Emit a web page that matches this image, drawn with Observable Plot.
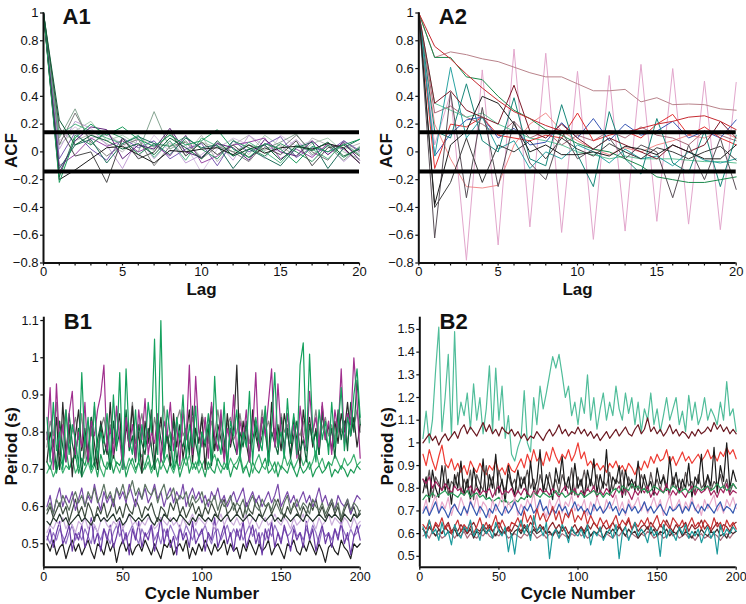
<!DOCTYPE html>
<html><head><meta charset="utf-8">
<script src="https://cdn.jsdelivr.net/npm/d3@7"></script>
<script src="https://cdn.jsdelivr.net/npm/@observablehq/plot@0.6"></script>
<style>
body{margin:0;background:#fff}
#wrap{position:relative;width:746px;height:604px;overflow:hidden;background:#fff}
.panel{position:absolute}
</style></head><body><div id="wrap"></div>
<script>
// ---------- categories / ticks ----------
const lags = [0,1,2,3,4,5,6,7,8,9,10,11,12,13,14,15,16,17,18,19,20];
const cycles = Array.from({length:100},(_,i)=>2*i+2);
const ticksAy = [-0.8,-0.6,-0.4,-0.2,0,0.2,0.4,0.6,0.8,1];
const ticksAx = lags;
const ticksB1y = [0.5,0.6,0.7,0.8,0.9,1,1.1];
const ticksB2y = [0.5,0.6,0.7,0.8,0.9,1,1.1,1.2,1.3,1.4,1.5];
const ticksBx = [0,50,100,150,200];
const confBand = [0.1414,-0.1414];

// ---------- A1 ACF series ----------
const a1s1 = [1,.23,.05,.12,.08,.02,.06,-.02,.10,.03,-.05,.08,-.03,.02,.05,-.06,.04,.01,.07,-.03,.02];
const a1s2 = [1,-.22,.10,.20,.12,.18,.09,.04,.12,.05,.08,.16,.02,-.04,.06,.02,-.08,.04,.00,.05,.09];
const a1s3 = [1,-.18,.12,.05,.15,.10,-.02,.06,.04,.11,.02,-.05,.08,.03,-.03,.06,.00,-.07,.05,-.04,.03];
const a1s4 = [1,.12,.20,.15,.10,.06,.12,-.04,.08,-.06,.10,.04,-.03,.07,.00,-.08,.05,.02,-.05,.06,-.02];
const a1s5 = [1,.10,.31,.05,.14,.03,.00,.29,.02,.08,-.04,.06,.00,.05,.02,.07,.13,-.02,.04,-.06,.04];
const a1s6 = [1,.05,.15,.22,.08,.12,.05,.01,.13,.00,.07,.03,.09,-.02,.12,.04,-.03,.06,.10,.00,-.05];
const a1s7 = [1,-.15,.08,.18,.16,-.05,.05,.02,.17,.00,-.04,.06,.03,-.06,.09,.00,-.03,.08,-.02,.07,-.06];
const a1s8 = [1,-.10,-.02,.10,.04,.08,.00,.05,-.03,.12,-.08,-.03,.05,.07,.10,-.05,.02,-.04,.06,.02,-.08];
const a1s9 = [1,-.05,.14,.02,-.06,.10,.03,.08,-.05,.02,.06,-.10,.08,.00,.05,.11,-.04,.03,.00,.08,.01];
const a1s10 = [1,.02,.22,.17,.05,-.12,.10,-.05,.08,-.08,-.02,.07,-.06,.12,.04,.00,.09,-.03,.05,-.07,.03];
const a1s11 = [1,.08,.18,.10,.12,.06,-.04,.12,.00,.05,-.15,.02,.10,.05,-.05,.12,.04,.08,-.02,.06,-.01];
const a1s12 = [1,-.20,-.13,-.05,.03,.04,-.02,-.08,.01,.00,.02,.03,-.02,.05,-.01,.03,.04,.02,.06,.03,-.08];
const a1s13 = [1,.18,-.03,.00,-.22,.10,-.05,.00,.15,-.03,.07,-.02,.05,-.04,.03,-.02,.08,-.10,.03,.05,-.03];
const a1s14 = [1,.05,.28,.07,-.03,.05,.09,-.10,.04,.07,-.05,.04,.00,-.07,.06,.02,.12,.00,-.06,.08,.00];
const a1s15 = [1,.15,.08,.13,.06,.00,.11,.03,.06,-.02,.12,-.07,.05,.12,.01,.05,-.04,.10,.05,.02,.06];
const a1s16 = [1,-.12,.05,.09,-.08,.06,.11,.06,-.02,.10,.03,.05,-.12,.02,-.04,-.10,.03,.07,-.12,.03,.09];

// ---------- A2 ACF series ----------
const a2Pink = [1,.05,.42,-.78,.59,-.67,.74,-.54,.71,-.58,.58,-.63,.55,-.57,.63,-.50,.60,-.52,.51,-.56,.50];
const a2Rosy = [1,.68,.72,.70,.67,.65,.61,.57,.54,.54,.49,.44,.44,.45,.36,.39,.34,.345,.34,.31,.30];
const a2Red1 = [1,.76,.67,.56,.46,.37,.29,.24,.19,.15,.13,.14,.15,.14,.17,.20,.22,.25,.26,.22,.16];
const a2Green = [1,.68,.68,.54,.52,.40,.30,.24,.16,.12,.06,.02,.00,-.05,-.10,-.18,-.20,-.22,-.22,-.20,-.18];
const a2Teal3 = [1,.15,.10,.49,.08,.00,.39,-.05,-.10,.34,-.02,-.25,.29,-.05,-.16,.24,-.08,-.15,.15,-.25,.12];
const a2Teal2 = [1,-.03,.61,.10,.25,.02,.08,-.12,.00,-.05,.05,.00,-.08,.02,-.05,-.03,-.10,.00,-.06,-.08,-.05];
const a2Blue = [1,-.03,.13,.23,.25,.10,.17,.05,.07,.21,.10,.24,.08,.20,.12,.15,.22,.10,.15,.10,.23];
const a2Black = [1,-.38,.05,.15,.40,.35,.20,.00,.05,-.02,-.02,.00,-.03,.04,.02,-.02,.05,.00,-.05,-.05,.05];
const a2DGrey = [1,-.62,.43,-.33,.32,-.25,.22,-.08,-.20,.15,-.05,.02,.10,-.05,.05,.00,-.33,.05,-.20,.10,-.27];
const a2DGrey2 = [1,-.40,-.22,.10,-.22,.05,.00,.08,-.05,.10,.02,-.03,.06,.00,-.05,.03,.00,-.05,.00,.04,-.06];
const a2Salmon = [1,.20,-.05,-.25,-.26,-.24,.05,.20,.28,.15,.08,.02,-.02,.03,.00,.05,.08,.12,.10,.15,.10];
const a2Red2 = [1,-.12,.20,.18,.25,.12,.10,.08,.12,.10,.28,.08,.12,.15,.10,.20,.27,.12,.18,.10,.05];
const a2Maroon = [1,.35,.44,.30,.25,.20,.48,.15,.10,.20,.10,.02,.10,.05,.00,-.05,.05,.00,.05,.22,.10];
const a2LGreen = [1,.35,.30,.25,.28,.20,.15,.10,.08,.05,.00,-.02,-.05,-.03,-.05,-.05,-.05,-.06,-.07,-.07,-.08];
const a2Mauve = [1,.28,.33,.25,.20,.12,.22,.10,.15,.05,.12,.08,.15,.10,.18,.12,.10,.05,.15,.12,.08];

// ---------- B1 period series (every 2nd cycle) ----------
const b1Grey = [.76,.83,.79,.88,.74,.81,.86,.77,.80,.84,.78,.85,.73,.82,.79,.87,.76,.81,.84,.78,.82,.77,.86,.80,.75,.83,.79,.88,.77,.81,.85,.78,.80,.76,.84,.79,.82,.87,.77,.80,.78,.83,.86,.79,.81,.76,.84,.80,.78,.85,.81,.77,.83,.79,.86,.80,.76,.82,.84,.78,.80,.85,.79,.81,.77,.84,.82,.78,.86,.80,.83,.79,.81,.76,.85,.80,.82,.78,.84,.81,.79,.83,.77,.82,.80,.86,.78,.81,.84,.79,.82,.78,.85,.80,.83,.77,.84,.81,.86,.80];
const b1Black = [.72,.80,.76,.84,.70,.88,.74,.82,.68,.79,.86,.75,.81,.72,.84,.77,.70,.83,.78,.74,.88,.73,.79,.85,.71,.82,.76,.87,.74,.80,.69,.83,.77,.86,.72,.78,.84,.75,.80,.71,.85,.76,.82,.73,.79,.86,.72,.81,.77,.84,.70,.80,.87,.75,.82,.78,.73,.85,.76,.81,.98,.74,.83,.77,.72,.86,.79,.75,.84,.80,.73,.88,.77,.82,.75,.85,.80,.74,.83,.78,.71,.86,.79,.84,.76,.81,.74,.87,.78,.82,.75,.83,.77,.85,.80,.88,.79,.84,.76,.82];
const b1DGreen = [.80,.74,.78,.70,.83,.76,.72,.85,.77,.73,.81,.68,.79,.75,.84,.71,.78,.82,.74,.77,.70,.83,.76,.80,.73,.86,.75,.79,.72,.82,.77,.74,.81,.76,.70,.84,.78,.73,.80,.75,.83,.72,.78,.76,.81,.74,.87,.77,.73,.80,.76,.82,.71,.79,.75,.84,.78,.72,.81,.77,.74,.80,.76,.83,.73,.78,.82,.75,.79,.86,.72,.80,.77,.74,.84,.76,.81,.73,.79,.83,.75,.78,.72,.82,.77,.80,.74,.85,.79,.76,.81,.73,.86,.78,.83,.75,.88,.80,.94,.82];
const b1Magenta = [.78,.92,.70,.93,.76,.82,.72,.85,.91,.74,.80,.76,.88,.72,.83,.79,.86,.90,.98,.75,.81,.74,.87,.78,.70,.84,.76,.82,.73,.86,.78,.89,.74,.80,.77,.85,.72,.83,.79,.88,.75,.82,.71,.86,.78,.98,.74,.95,.80,.76,.84,.73,.88,.79,.75,.86,.72,.81,.77,.90,.74,.83,.78,.86,.72,.80,.96,.75,.84,.79,.88,.97,.76,.93,.80,.74,.85,.78,.82,.73,.87,.79,.75,.91,.80,.84,.76,.88,.78,.83,.74,.86,.80,.97,.77,.85,.82,1.00,.88,.73];
const b1Green = [.84,.72,.88,.75,.80,.70,.86,.74,.82,.78,.71,.96,.76,.84,.70,.88,.73,.80,.77,.85,.72,.90,.75,.96,.70,.97,.78,.74,.86,.72,.82,.76,.88,.80,1.05,.74,1.10,.72,.86,.79,.70,.84,.78,.90,.73,.82,.76,.87,.71,.80,.77,.85,.72,.95,.78,.74,.88,.70,.83,.79,.86,.73,.80,.76,.91,.72,.84,.78,.75,.87,.71,.82,.96,.76,.80,.73,.89,.77,.85,.74,.98,1.04,.75,1.01,.80,.72,.86,.78,.83,.74,.88,.76,.81,.92,.75,.84,.79,.90,.97,.84];
const b1Green2 = [.72,.70,.74,.69,.73,.71,.76,.70,.72,.74,.69,.73,.71,.75,.70,.72,.68,.74,.71,.70,.73,.69,.72,.71,.74,.68,.71,.73,.70,.72,.69,.71,.74,.70,.72,.68,.73,.71,.69,.72,.70,.73,.68,.71,.74,.69,.72,.70,.73,.71,.68,.72,.70,.69,.73,.71,.70,.72,.68,.71,.70,.73,.69,.71,.68,.72,.70,.69,.71,.73,.69,.70,.72,.68,.71,.70,.69,.72,.70,.68,.71,.69,.70,.72,.68,.70,.71,.69,.70,.72,.68,.70,.69,.71,.70,.68,.70,.69,.71,.70];
const b1Green3 = [.69,.71,.68,.70,.72,.69,.71,.70,.73,.69,.71,.68,.70,.72,.69,.71,.73,.70,.68,.72,.70,.74,.71,.69,.72,.70,.73,.71,.69,.72,.74,.70,.72,.69,.71,.73,.70,.72,.74,.71,.69,.72,.70,.73,.71,.74,.70,.72,.69,.71,.73,.70,.72,.74,.71,.69,.72,.70,.73,.71,.72,.74,.70,.71,.73,.69,.72,.74,.71,.70,.73,.71,.69,.72,.70,.74,.71,.73,.70,.72,.74,.71,.73,.70,.72,.75,.71,.73,.70,.72,.71,.74,.72,.70,.73,.71,.72,.74,.71,.72];
const b1GGreen = [.59,.61,.58,.62,.60,.63,.61,.59,.62,.64,.61,.63,.60,.64,.62,.65,.61,.63,.66,.62,.64,.61,.65,.63,.66,.62,.64,.67,.63,.65,.62,.66,.64,.63,.65,.61,.64,.66,.62,.63,.65,.61,.63,.62,.64,.60,.63,.61,.62,.64,.60,.62,.61,.63,.59,.62,.60,.61,.63,.59,.61,.60,.62,.58,.61,.63,.60,.59,.62,.60,.61,.59,.62,.60,.58,.61,.63,.59,.60,.62,.59,.61,.60,.58,.62,.60,.59,.61,.58,.60,.62,.59,.61,.57,.60,.62,.59,.61,.60,.58];
const b1Purple = [.60,.63,.58,.62,.65,.60,.63,.61,.64,.59,.62,.65,.60,.63,.61,.66,.62,.59,.64,.61,.63,.60,.65,.62,.64,.61,.66,.63,.60,.64,.62,.65,.61,.63,.66,.62,.64,.60,.63,.65,.61,.64,.62,.66,.60,.63,.65,.62,.64,.61,.63,.60,.64,.62,.65,.61,.63,.60,.62,.64,.61,.63,.65,.60,.62,.64,.61,.63,.60,.62,.64,.61,.63,.66,.60,.62,.64,.61,.63,.60,.62,.64,.61,.63,.60,.62,.65,.61,.63,.60,.62,.59,.63,.61,.60,.62,.58,.61,.63,.62];
const b1DGrey = [.58,.60,.57,.59,.61,.58,.60,.56,.59,.62,.58,.60,.57,.61,.59,.56,.60,.58,.61,.57,.59,.62,.58,.60,.57,.61,.59,.58,.62,.60,.57,.60,.59,.61,.58,.56,.60,.59,.57,.61,.59,.62,.58,.60,.57,.59,.61,.58,.60,.57,.60,.58,.61,.59,.57,.60,.62,.58,.59,.61,.58,.60,.57,.61,.59,.58,.62,.60,.57,.59,.61,.58,.60,.62,.59,.57,.60,.58,.61,.59,.57,.60,.58,.61,.59,.62,.58,.60,.57,.59,.61,.58,.60,.56,.59,.61,.58,.60,.57,.59];
const b1Dark = [.56,.55,.57,.56,.58,.56,.57,.55,.56,.57,.58,.56,.57,.56,.55,.57,.58,.56,.57,.56,.57,.58,.56,.57,.55,.56,.58,.57,.56,.57,.56,.57,.58,.56,.55,.57,.56,.58,.57,.56,.57,.56,.58,.57,.56,.55,.57,.56,.58,.57,.56,.57,.56,.58,.57,.56,.57,.58,.56,.57,.58,.57,.56,.57,.58,.57,.56,.58,.57,.56,.57,.58,.56,.57,.56,.58,.57,.56,.57,.58,.57,.56,.58,.57,.56,.57,.58,.57,.56,.58,.57,.58,.57,.56,.58,.57,.56,.58,.57,.58];
const b1LPurple = [.53,.55,.54,.56,.55,.57,.54,.56,.55,.53,.56,.55,.57,.54,.56,.55,.53,.56,.57,.55,.54,.56,.55,.57,.54,.56,.58,.55,.56,.54,.56,.55,.57,.56,.54,.55,.57,.56,.55,.57,.55,.56,.54,.57,.55,.56,.58,.55,.57,.56,.55,.57,.56,.54,.56,.58,.55,.57,.56,.55,.57,.55,.56,.58,.55,.57,.56,.54,.56,.57,.55,.56,.58,.56,.55,.57,.56,.54,.57,.55,.56,.58,.55,.57,.56,.54,.57,.55,.56,.58,.55,.57,.56,.55,.57,.56,.54,.57,.55,.56];
const b1Purple2 = [.51,.54,.49,.53,.56,.50,.52,.55,.48,.53,.51,.55,.49,.52,.57,.50,.53,.48,.54,.51,.55,.49,.52,.56,.50,.53,.47,.54,.51,.56,.49,.53,.51,.55,.48,.52,.57,.50,.54,.49,.52,.47,.55,.51,.53,.49,.56,.50,.52,.54,.48,.53,.51,.57,.49,.52,.55,.50,.53,.48,.54,.51,.56,.49,.52,.55,.50,.53,.47,.54,.51,.56,.49,.53,.50,.55,.52,.48,.54,.51,.53,.49,.56,.51,.54,.48,.52,.55,.50,.53,.49,.54,.51,.56,.50,.53,.47,.52,.55,.51];
const b1Purple3 = [.52,.50,.53,.51,.54,.52,.50,.53,.55,.51,.53,.51,.54,.52,.50,.55,.53,.51,.54,.52,.50,.53,.55,.52,.54,.51,.53,.55,.52,.50,.54,.52,.53,.55,.51,.53,.50,.54,.52,.55,.53,.51,.54,.52,.55,.53,.51,.54,.52,.53,.55,.52,.50,.53,.54,.51,.53,.55,.52,.54,.52,.54,.51,.53,.55,.52,.54,.50,.53,.51,.54,.52,.55,.53,.51,.54,.52,.53,.55,.52,.53,.51,.54,.52,.55,.53,.50,.54,.52,.53,.51,.54,.52,.55,.53,.51,.54,.52,.53,.55];
const b1Black2 = [.50,.48,.51,.47,.49,.50,.46,.49,.51,.48,.50,.47,.49,.51,.48,.46,.50,.49,.47,.51,.48,.50,.45,.49,.51,.48,.50,.47,.49,.50,.48,.51,.49,.47,.50,.48,.46,.50,.49,.51,.47,.49,.50,.48,.51,.46,.49,.47,.50,.48,.51,.49,.47,.50,.48,.49,.51,.47,.50,.48,.49,.46,.50,.48,.51,.49,.47,.50,.48,.49,.51,.47,.49,.50,.48,.46,.50,.49,.51,.48,.47,.50,.48,.51,.49,.47,.50,.48,.45,.49,.50,.48,.47,.51,.49,.48,.46,.50,.49,.50];

// ---------- B2 period series (every 2nd cycle) ----------
const b2Teal = [1.02,1.14,1.00,1.10,1.32,1.51,1.05,1.20,1.39,1.03,1.49,1.08,1.18,1.12,1.22,1.06,1.26,1.10,1.20,1.04,1.15,1.34,1.05,1.33,1.10,1.25,1.02,1.12,.95,.92,.98,1.02,1.23,1.00,.96,1.20,1.08,1.25,1.15,1.22,1.30,1.38,1.33,1.39,1.30,1.20,1.25,1.12,1.18,1.08,1.20,1.13,1.30,1.10,1.20,1.06,1.15,1.22,1.10,1.18,1.12,1.25,1.15,1.10,1.22,1.13,1.20,1.08,1.18,1.05,1.15,1.10,1.22,1.08,1.15,1.05,1.12,1.20,1.10,1.15,1.20,1.08,1.14,1.05,1.21,1.10,1.18,1.08,1.12,1.20,1.10,1.15,1.12,1.08,1.18,1.10,1.27,1.12,1.15,1.05];
const b2Maroon = [1.00,1.02,1.04,1.01,1.03,.99,1.02,1.04,1.01,1.03,1.05,1.02,1.06,1.08,1.04,1.07,1.05,1.03,1.06,1.09,1.05,1.08,1.04,1.06,1.03,1.07,1.05,1.04,1.06,1.03,1.05,1.02,1.04,1.01,1.03,1.02,1.05,1.03,1.01,1.04,1.06,1.03,1.05,1.08,1.04,1.06,1.03,1.05,1.04,1.07,1.04,1.06,1.03,1.05,1.02,1.04,1.01,1.03,1.05,1.02,1.04,1.06,1.03,1.05,1.07,1.04,1.03,1.06,1.08,1.04,1.06,1.11,1.05,1.07,1.04,1.06,1.03,1.05,1.08,1.04,1.06,1.03,1.05,1.04,1.02,1.05,1.03,1.06,1.04,1.05,1.07,1.05,1.09,1.06,1.08,1.05,1.07,1.04,1.06,1.04];
const b2Red = [.95,.90,.97,.92,.88,.94,.99,.91,.89,.93,.88,.91,.87,.90,.86,.92,.89,.87,.91,.88,.86,.90,.88,.92,.87,.89,.86,.91,.88,.87,.90,.93,.89,.95,.91,.97,.92,.94,.90,.96,.92,.98,.94,.91,.95,.93,.97,.92,.95,1.00,.93,.96,.90,.92,.89,.91,.88,.90,.87,.91,.89,.92,.88,.90,.87,.91,.89,.86,.90,.88,.92,.89,.94,.91,.95,.92,.93,.97,.91,.94,.90,.93,.96,.92,.94,.91,.93,.95,.92,.94,.97,.93,.95,.92,.96,.94,.98,.95,.97,.93];
const b2Black = [.78,.85,.74,.88,.80,.76,.90,.79,.84,.73,.86,.80,.92,.77,.84,.75,.89,.81,.78,.93,.76,.86,.80,.95,.78,.84,.74,.90,.82,.77,.88,.80,.85,.76,.92,.79,.83,.97,.78,.86,.81,.75,.89,.82,.94,.79,.85,.77,.91,.80,.84,.76,.88,.81,.93,.78,.86,.80,.97,.77,.85,.82,.90,.76,.88,.81,.84,.79,.92,.78,.86,.80,.83,.77,.89,.82,.85,.79,.94,.81,.87,.78,.84,.80,.91,.76,.85,.82,.95,.79,.86,.81,.98,.78,.90,.83,1.00,.80,.88,.83];
const b2DGrey = [.84,.80,.88,.76,.85,.82,.79,.90,.77,.83,.81,.87,.78,.84,.80,.88,.75,.86,.82,.79,.90,.80,.85,.77,.88,.82,.79,.86,.81,.84,.78,.85,.82,.88,.80,.84,.77,.86,.81,.79,.87,.80,.84,.78,.86,.82,.80,.89,.77,.85,.81,.88,.79,.84,.80,.86,.78,.83,.81,.87,.79,.84,.82,.88,.77,.85,.80,.83,.79,.86,.82,.78,.87,.80,.84,.79,.86,.81,.78,.85,.80,.84,.79,.87,.81,.83,.78,.86,.80,.82,.85,.79,.83,.81,.86,.80,.84,.78,.82,.80];
const b2Magenta = [.84,.82,.85,.80,.83,.81,.79,.82,.80,.78,.81,.79,.80,.77,.79,.81,.78,.80,.77,.79,.78,.80,.76,.79,.81,.77,.79,.78,.80,.76,.79,.77,.80,.78,.76,.79,.77,.80,.78,.79,.77,.80,.78,.76,.79,.81,.77,.78,.80,.76,.79,.77,.80,.78,.81,.76,.79,.77,.80,.78,.76,.79,.81,.77,.80,.78,.75,.79,.77,.80,.78,.81,.76,.79,.77,.80,.78,.82,.76,.79,.77,.80,.78,.76,.79,.81,.77,.80,.78,.79,.81,.77,.79,.76,.80,.78,.82,.77,.79,.78];
const b2Green = [.75,.77,.76,.78,.76,.77,.78,.79,.77,.78,.77,.76,.78,.77,.79,.76,.77,.78,.76,.77,.75,.76,.74,.75,.76,.74,.75,.73,.74,.75,.74,.76,.75,.77,.76,.78,.77,.76,.78,.77,.76,.77,.79,.77,.78,.76,.77,.79,.78,.77,.78,.76,.77,.78,.79,.77,.78,.76,.78,.77,.79,.80,.78,.81,.80,.79,.82,.80,.81,.79,.80,.78,.79,.81,.80,.79,.78,.80,.79,.81,.80,.78,.79,.80,.78,.79,.81,.80,.79,.80,.81,.79,.80,.82,.80,.81,.79,.80,.82,.80];
const b2Pink = [.70,.75,.68,.73,.77,.69,.74,.71,.76,.68,.73,.70,.76,.72,.68,.75,.71,.77,.69,.74,.72,.67,.75,.70,.73,.77,.69,.74,.71,.76,.68,.73,.70,.75,.72,.78,.69,.74,.71,.67,.75,.70,.73,.76,.69,.74,.72,.77,.70,.73,.71,.75,.68,.74,.70,.76,.72,.69,.75,.71,.73,.77,.70,.74,.68,.75,.71,.73,.76,.70,.74,.69,.72,.76,.71,.75,.68,.73,.77,.70,.72,.75,.69,.74,.71,.76,.70,.73,.68,.75,.71,.74,.77,.70,.73,.69,.75,.72,.76,.71];
const b2Blue = [.69,.72,.68,.71,.74,.69,.72,.70,.67,.71,.73,.70,.68,.72,.69,.74,.71,.68,.72,.70,.67,.71,.69,.73,.70,.68,.72,.69,.71,.74,.70,.68,.72,.70,.73,.69,.71,.75,.70,.72,.68,.71,.69,.73,.70,.72,.68,.71,.74,.70,.72,.69,.71,.68,.73,.70,.72,.69,.71,.74,.70,.72,.68,.71,.69,.73,.70,.72,.69,.71,.74,.70,.72,.69,.71,.73,.70,.68,.72,.70,.71,.73,.69,.72,.70,.74,.71,.69,.72,.70,.73,.71,.69,.72,.74,.70,.72,.71,.69,.73];
const b2Red2 = [.64,.62,.66,.61,.65,.63,.67,.62,.64,.60,.63,.66,.61,.64,.62,.65,.60,.63,.67,.62,.65,.61,.64,.68,.62,.66,.63,.61,.65,.64,.67,.63,.70,.65,.68,.64,.71,.66,.69,.65,.68,.72,.66,.70,.64,.69,.67,.71,.65,.68,.66,.70,.64,.68,.65,.63,.67,.64,.66,.62,.65,.68,.63,.66,.64,.67,.62,.65,.63,.66,.64,.67,.62,.65,.68,.63,.66,.64,.62,.67,.65,.63,.66,.61,.64,.67,.63,.65,.62,.66,.64,.62,.67,.63,.65,.61,.66,.63,.65,.62];
const b2DRed = [.62,.60,.63,.61,.64,.62,.60,.63,.65,.61,.63,.61,.64,.62,.60,.63,.65,.62,.61,.64,.62,.64,.61,.63,.65,.62,.60,.63,.61,.64,.63,.61,.64,.62,.65,.63,.61,.64,.62,.60,.63,.65,.62,.64,.61,.63,.60,.62,.64,.61,.63,.61,.64,.62,.65,.63,.61,.64,.62,.63,.65,.62,.64,.61,.63,.66,.62,.64,.61,.63,.64,.62,.65,.63,.61,.64,.62,.66,.63,.61,.64,.62,.63,.65,.61,.64,.62,.63,.66,.62,.64,.61,.63,.65,.62,.64,.63,.61,.64,.65];
const b2Teal2 = [.63,.58,.66,.60,.62,.57,.65,.59,.61,.55,.64,.60,.58,.63,.61,.66,.59,.62,.57,.64,.60,.62,.58,.65,.61,.59,.63,.52,.60,.51,.62,.66,.60,.64,.57,.68,.61,.63,.59,.65,.49,.60,.62,.58,.64,.61,.56,.63,.60,.59,.62,.58,.64,.55,.61,.59,.63,.57,.60,.62,.58,.64,.49,.60,.63,.57,.61,.65,.59,.62,.60,.56,.63,.59,.61,.50,.64,.58,.62,.60,.57,.63,.60,.64,.58,.61,.59,.62,.56,.60,.63,.58,.61,.51,.64,.59,.62,.60,.63,.61];
const b2Rosy = [.59,.60,.58,.61,.59,.60,.58,.59,.61,.60,.58,.60,.59,.61,.58,.60,.59,.58,.60,.59,.61,.59,.58,.60,.59,.61,.60,.58,.59,.60,.59,.58,.60,.59,.61,.60,.58,.59,.60,.58,.60,.59,.61,.58,.60,.59,.58,.60,.59,.61,.59,.60,.58,.59,.61,.60,.59,.58,.60,.59,.58,.60,.59,.61,.59,.58,.60,.59,.58,.60,.59,.61,.60,.58,.59,.60,.58,.59,.61,.59,.60,.58,.59,.60,.58,.59,.57,.59,.60,.58,.59,.58,.60,.59,.57,.59,.60,.58,.60,.61];
const b2Dark = [.62,.60,.63,.61,.59,.62,.60,.63,.61,.60,.62,.59,.61,.63,.60,.62,.58,.61,.60,.62,.60,.63,.61,.59,.62,.60,.61,.63,.59,.61,.62,.60,.63,.61,.59,.62,.60,.61,.63,.60,.61,.59,.62,.60,.63,.61,.58,.62,.60,.61,.63,.60,.62,.59,.61,.60,.62,.58,.61,.60,.62,.60,.63,.61,.59,.62,.60,.61,.58,.60,.61,.63,.60,.62,.59,.61,.60,.62,.59,.61,.60,.62,.59,.61,.60,.58,.61,.59,.62,.60,.59,.61,.60,.62,.59,.60,.58,.61,.60,.61];

// ---------- colours (draw order) ----------
const A1series = [
  [a1s6,"#a9cdb4"],[a1s11,"#d9c3e3"],[a1s15,"#b8b8b8"],[a1s10,"#c3a2d6"],[a1s5,"#86a592"],
  [a1s14,"#7e7e7e"],[a1s9,"#7a5bb2"],[a1s8,"#9a4aa6"],[a1s4,"#55b887"],[a1s3,"#2f9262"],
  [a1s16,"#1f6f5c"],[a1s13,"#4a4a4a"],[a1s7,"#5e2379"],[a1s12,"#1b1b1b"],[a1s2,"#1c9c5c"],[a1s1,"#0f5f38"]
];
const A2series = [
  [a2Pink,"#e2a6cc"],[a2Rosy,"#b9838b"],[a2Salmon,"#f28c8c"],[a2Mauve,"#a86a7a"],[a2LGreen,"#62c396"],
  [a2Blue,"#3655b3"],[a2Red2,"#e23232"],[a2Teal2,"#2aa3a3"],[a2Teal3,"#17877a"],[a2Green,"#1b8a4c"],
  [a2Maroon,"#7d1a2a"],[a2Red1,"#c62a30"],[a2DGrey2,"#3c3c3c"],[a2DGrey,"#5a5058"],[a2Black,"#1e1e1e"]
];
const B1series = [
  [b1Black2,"#1e1e1e"],[b1Purple3,"#9474c4"],[b1Purple2,"#6a3aa6"],[b1LPurple,"#cbaedb"],[b1Dark,"#21322a"],
  [b1DGrey,"#3e4c40"],[b1Purple,"#7a4aaa"],[b1GGreen,"#5e7463"],[b1Green3,"#3fb071"],[b1Green2,"#1f9c58"],
  [b1Grey,"#858585"],[b1Black,"#2a2a2a"],[b1DGreen,"#0d6439"],[b1Magenta,"#a02f8e"],[b1Green,"#15a15e"]
];
const B2series = [
  [b2Teal,"#50bd9a"],[b2Maroon,"#6b1a22"],[b2Red,"#ee3b33"],[b2DGrey,"#5a5252"],[b2Black,"#1a1a1a"],
  [b2Magenta,"#a21f5c"],[b2Green,"#2a9a58"],[b2Pink,"#e8a8ca"],[b2Blue,"#3458b0"],[b2Rosy,"#a86a7a"],
  [b2Dark,"#3c2828"],[b2DRed,"#8a2428"],[b2Red2,"#c83232"],[b2Teal2,"#1c9a9c"]
];

function rows(xs, series){
  return series.flatMap(([vals,color],k)=>vals.map((v,i)=>({x:xs[i], y:v, id:k, color})));
}
const FONT = "'Liberation Sans', Arial, Helvetica, sans-serif";
const fmt = d => String(+(+d).toFixed(2)).replace("-", "\u2212");

function panel(o){
  const marks = [
    Plot.line(o.data, {x:"x", y:"y", z:"id", stroke:"color", strokeWidth:o.sw}),
  ];
  if (o.band) marks.push(Plot.ruleY(o.band, {stroke:"#000", strokeWidth:4}));
  marks.push(
    Plot.ruleX([o.xDomain[0]], {stroke:"#111", strokeWidth:2}),
    Plot.ruleY([o.yDomain[0]], {stroke:"#111", strokeWidth:2}),
    Plot.axisY(o.yTicks, {tickSize:3, tickPadding:2, tickFormat:fmt, fontSize:o.fs, label:null, stroke:"#111", strokeWidth:1.2}),
    Plot.axisX(o.xTicks, {tickSize:3, tickPadding:o.xpad, tickFormat:o.xFmt, fontSize:o.fs, label:null, stroke:"#111", strokeWidth:1.2}),
    Plot.text([o.xTitle], {text:d=>d, frameAnchor:"bottom", textAnchor:"middle", lineAnchor:"middle", dy:o.xdy, fontSize:17, fontWeight:"bold"}),
    Plot.text([o.yTitle], {text:d=>d, frameAnchor:"left", textAnchor:"middle", lineAnchor:"middle", rotate:-90, dx:-32, dy:o.ydy, fontSize:17, fontWeight:"bold"}),
    Plot.text([o.title], {text:d=>d, frameAnchor:"top-left", textAnchor:"start", lineAnchor:"top", dx:o.tdx, dy:o.tdy, fontSize:22, fontWeight:"bold"})
  );
  const svg = Plot.plot({
    width:o.w, height:o.h,
    marginLeft:o.ml, marginRight:o.mr, marginTop:o.mt, marginBottom:o.mb,
    x:{domain:o.xDomain}, y:{domain:o.yDomain},
    color:{type:"identity"},
    style:{fontFamily:FONT, fontSize:"13px", color:"#111", background:"transparent", overflow:"visible"},
    marks
  });
  const div = document.createElement("div");
  div.className = "panel";
  div.style.left = o.left + "px"; div.style.top = o.top + "px";
  div.appendChild(svg);
  document.getElementById("wrap").appendChild(div);
}

const lagFmt = d => d % 5 === 0 ? String(d) : "";
panel({data:rows(lags, A1series), left:0, top:0, w:373, h:300, ml:43, mr:14, mt:12.5, mb:37.5,
  xDomain:[0,20], yDomain:[-0.8,1], yTicks:ticksAy, xTicks:ticksAx, xFmt:lagFmt, band:confBand, sw:1, fs:13, xpad:1,
  xTitle:"Lag", yTitle:"ACF", title:"A1", xdy:27, ydy:12.5, tdx:19, tdy:-5});
panel({data:rows(lags, A2series), left:373, top:0, w:373, h:300, ml:45.3, mr:10.3, mt:12.5, mb:37.5,
  xDomain:[0,20], yDomain:[-0.8,1], yTicks:ticksAy, xTicks:ticksAx, xFmt:lagFmt, band:confBand, sw:1, fs:13, xpad:1,
  xTitle:"Lag", yTitle:"ACF", title:"A2", xdy:27, ydy:12.5, tdx:20, tdy:-5});
panel({data:rows(cycles, B1series), left:0, top:300, w:373, h:304, ml:43.3, mr:13.3, mt:16.7, mb:37.3,
  xDomain:[0,200], yDomain:[0.437,1.109], yTicks:ticksB1y, xTicks:ticksBx, xFmt:d=>String(d), sw:1.2, fs:12.5, xpad:1.5,
  xTitle:"Cycle Number", yTitle:"Period (s)", title:"B1", xdy:26.5, ydy:4, tdx:20, tdy:-3.4});
panel({data:rows(cycles, B2series), left:373, top:300, w:373, h:304, ml:46.3, mr:10.3, mt:16.7, mb:37.3,
  xDomain:[0,200], yDomain:[0.452,1.554], yTicks:ticksB2y, xTicks:ticksBx, xFmt:d=>String(d), sw:1.2, fs:12.5, xpad:1.5,
  xTitle:"Cycle Number", yTitle:"Period (s)", title:"B2", xdy:26.5, ydy:4, tdx:19.7, tdy:-3.4});
</script></body></html>
